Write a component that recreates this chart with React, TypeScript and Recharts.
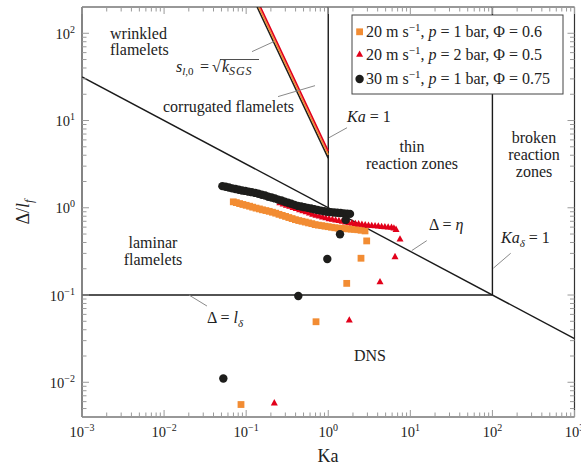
import React from 'react';
import { ComposedChart, XAxis, YAxis, Line, Scatter, ReferenceLine } from 'recharts';

const FONT = '"Liberation Serif", "Times New Roman", serif';
const TXT = '#222';
const ORANGE = '#f28c33';
const RED = '#e2001a';
const BLACK = '#1d1d1b';

// ---- series values: [Ka, Delta/l_f] ----
const orangeBand = [
  [0.0697, 1.17], [0.0759, 1.146], [0.0832, 1.117], [0.0912, 1.091], [0.1, 1.067], [0.11, 1.042],
  [0.12, 1.016], [0.132, 0.991], [0.145, 0.97], [0.158, 0.948], [0.174, 0.929], [0.191, 0.91],
  [0.209, 0.889], [0.229, 0.867], [0.251, 0.841], [0.275, 0.818], [0.302, 0.796], [0.331, 0.773],
  [0.363, 0.752], [0.398, 0.731], [0.437, 0.714], [0.479, 0.7], [0.525, 0.686], [0.575, 0.671],
  [0.631, 0.658], [0.692, 0.641], [0.759, 0.632], [0.832, 0.624], [0.912, 0.615], [1.0, 0.607],
  [1.096, 0.598], [1.202, 0.59], [1.318, 0.585], [1.445, 0.581], [1.585, 0.577], [1.738, 0.573],
  [1.905, 0.569], [2.089, 0.565], [2.291, 0.56], [2.512, 0.553], [2.805, 0.543],
];
const orangeExtra = [[2.94, 0.417], [2.506, 0.264], [1.679, 0.136], [0.7095, 0.0494], [0.0865, 0.00556]];

const redBand = [
  [0.257, 1.138], [0.282, 1.104], [0.309, 1.072], [0.339, 1.04], [0.372, 1.009], [0.407, 0.979],
  [0.447, 0.951], [0.49, 0.923], [0.537, 0.898], [0.589, 0.871], [0.646, 0.845], [0.708, 0.822],
  [0.776, 0.804], [0.851, 0.785], [0.933, 0.767], [1.023, 0.75], [1.122, 0.738], [1.23, 0.724],
  [1.349, 0.713], [1.479, 0.7], [1.622, 0.687], [1.778, 0.676], [1.95, 0.667], [2.138, 0.659],
  [2.344, 0.653], [2.57, 0.646], [2.818, 0.638], [3.09, 0.631], [3.388, 0.625], [3.715, 0.621],
  [4.074, 0.617], [4.467, 0.611], [4.898, 0.607], [5.37, 0.603], [5.888, 0.598], [6.31, 0.586],
  [6.699, 0.565],
];
const redExtra = [[7.485, 0.4395], [6.508, 0.2753], [4.272, 0.1421], [1.805, 0.0516], [0.2202, 0.0058]];

const blackBand = [
  [0.0513, 1.77], [0.0562, 1.74], [0.0617, 1.71], [0.0676, 1.67], [0.0741, 1.64], [0.0813, 1.61],
  [0.0891, 1.58], [0.0977, 1.56], [0.107, 1.53], [0.117, 1.51], [0.129, 1.48], [0.141, 1.45],
  [0.155, 1.41], [0.17, 1.38], [0.186, 1.34], [0.204, 1.31], [0.224, 1.28], [0.245, 1.24],
  [0.269, 1.21], [0.295, 1.17], [0.324, 1.14], [0.355, 1.11], [0.389, 1.08], [0.427, 1.05],
  [0.468, 1.035], [0.513, 1.016], [0.562, 0.998], [0.617, 0.98], [0.676, 0.962], [0.741, 0.944],
  [0.813, 0.927], [0.891, 0.912], [0.977, 0.9], [1.072, 0.891], [1.175, 0.883], [1.288, 0.877],
  [1.413, 0.871], [1.549, 0.863], [1.698, 0.857], [1.841, 0.851],
];
const blackExtra = [[1.632, 0.726], [1.391, 0.498], [0.974, 0.259], [0.4316, 0.0974], [0.0527, 0.01106]];

// ---- regime boundaries ----
const etaLine = [[0.001, 31.62], [1000, 0.03162]];
const lDeltaLine = [[0.001, 0.1], [100, 0.1]];
const ka1Line = [[1, 1], [1, 200]];
const kaDeltaLine = [[100, 0.1], [100, 200]];
const sgsBlack = [[0.136, 200], [1, 3.7]];
const sgsOrange = [[0.1423, 200], [1, 4.05]];
const sgsRed = [[0.1492, 200], [1, 4.45]];

// ---- leader lines for annotations ----
const leaders = [
  [[0.1178, 61.6], [0.2183, 80.4]],
  [[0.2443, 18.8], [0.69, 25.1]],
  [[1.02, 6.35], [1.693, 8.27]],
  [[10.4, 0.323], [15.85, 0.42]],
  [[102.6, 0.203], [167, 0.301]],
  [[0.0201, 0.1], [0.0333, 0.0748]],
];

// ---- axis ticks ----
const X_DOMAIN = [0.001, 1000];
const Y_DOMAIN = [0.004, 200];
const DECADES = [-3, -2, -1, 0, 1, 2, 3];
const MULTS = [1, 2, 3, 4, 5, 6, 7, 8, 9];

const pts = (a: number[][]) => a.map(([ka, d]) => ({ ka, d }));
const buildTicks = (lo: number, hi: number) => {
  const out: number[] = [];
  DECADES.forEach((e) => MULTS.forEach((m) => {
    const v = Number((m * Math.pow(10, e)).toPrecision(3));
    if (v >= lo * 0.999 && v <= hi * 1.001) out.push(v);
  }));
  return out;
};
const xTicks = buildTicks(X_DOMAIN[0], X_DOMAIN[1]);
const yTicks = buildTicks(Y_DOMAIN[0], Y_DOMAIN[1]);
const expOf = (v: number) => Math.round(Math.log10(v));
const isMajor = (v: number) => Math.abs(Math.log10(v) - expOf(v)) < 1e-6;
const expStr = (v: number) => { const e = expOf(v); return e < 0 ? '\u2212' + Math.abs(e) : String(e); };

const TICK = '#9a9a9a';
const MAJ = 7;
const MIN = 4.5;

const BottomTick = (p: any) => {
  const v = p.payload.value; const mj = isMajor(v);
  return (
    <g>
      <line x1={p.x} x2={p.x} y1={p.y} y2={p.y - (mj ? MAJ : MIN)} stroke={TICK} strokeWidth={1} />
      {mj && (
        <text x={p.x} y={p.y + 20} textAnchor="middle" fontFamily={FONT} fontSize={14.5} fill={TXT}>
          10<tspan dy={-6} fontSize={10}>{expStr(v)}</tspan>
        </text>
      )}
    </g>
  );
};
const TopTick = (p: any) => {
  const v = p.payload.value; const mj = isMajor(v);
  return <line x1={p.x} x2={p.x} y1={p.y} y2={p.y + (mj ? MAJ : MIN)} stroke={TICK} strokeWidth={1} />;
};
const LeftTick = (p: any) => {
  const v = p.payload.value; const mj = isMajor(v);
  return (
    <g>
      <line x1={p.x} x2={p.x + (mj ? MAJ : MIN)} y1={p.y} y2={p.y} stroke={TICK} strokeWidth={1} />
      {mj && (
        <text x={p.x - 7} y={p.y + 5.5} textAnchor="end" fontFamily={FONT} fontSize={14.5} fill={TXT}>
          10<tspan dy={-6} fontSize={10}>{expStr(v)}</tspan>
        </text>
      )}
    </g>
  );
};
const RightTick = (p: any) => {
  const v = p.payload.value; const mj = isMajor(v);
  return <line x1={p.x} x2={p.x - (mj ? MAJ : MIN)} y1={p.y} y2={p.y} stroke={TICK} strokeWidth={1} />;
};

const Sq = (p: any) => <rect x={p.cx - 3.4} y={p.cy - 3.4} width={6.8} height={6.8} fill={ORANGE} />;
const Tri = (p: any) => (
  <polygon points={`${p.cx},${p.cy - 3.8} ${p.cx - 3.5},${p.cy + 2.5} ${p.cx + 3.5},${p.cy + 2.5}`} fill={RED} />
);
const Dot = (p: any) => <circle cx={p.cx} cy={p.cy} r={4.2} fill={BLACK} />;

const AX = { stroke: '#333', strokeWidth: 1.2 };

export default function App() {
  const lineProps = { dataKey: 'd', dot: false, isAnimationActive: false, legendType: 'none' as const, type: 'linear' as const };
  return (
    <div style={{ position: 'absolute', left: 0, top: 0, width: 581, height: 466, background: '#fff' }}>
      <ComposedChart width={581} height={466} margin={{ top: 0, right: 0, bottom: 0, left: 0 }}>
        <XAxis dataKey="ka" type="number" scale="log" domain={X_DOMAIN} allowDataOverflow ticks={xTicks}
          interval={0} tickSize={0} tickMargin={0} tickLine={false} axisLine={AX} height={49} tick={BottomTick} />
        <XAxis xAxisId="top" orientation="top" dataKey="ka" type="number" scale="log" domain={X_DOMAIN} allowDataOverflow
          ticks={xTicks} interval={0} tickSize={0} tickMargin={0} tickLine={false} axisLine={AX} height={7} tick={TopTick} />
        <YAxis dataKey="d" type="number" scale="log" domain={Y_DOMAIN} allowDataOverflow ticks={yTicks}
          interval={0} tickSize={0} tickMargin={0} tickLine={false} axisLine={AX} width={82} tick={LeftTick} />
        <YAxis yAxisId="right" orientation="right" dataKey="d" type="number" scale="log" domain={Y_DOMAIN} allowDataOverflow
          ticks={yTicks} interval={0} tickSize={0} tickMargin={0} tickLine={false} axisLine={AX} width={6.5} tick={RightTick} />

        <Line data={pts(etaLine)} {...lineProps} stroke="#1a1a1a" strokeWidth={1.4} />
        <Line data={pts(lDeltaLine)} {...lineProps} stroke="#1a1a1a" strokeWidth={1.4} />
        <Line data={pts(ka1Line)} {...lineProps} stroke="#1a1a1a" strokeWidth={1.4} />
        <Line data={pts(kaDeltaLine)} {...lineProps} stroke="#1a1a1a" strokeWidth={1.4} />
        <Line data={pts(sgsBlack)} {...lineProps} stroke={BLACK} strokeWidth={1.6} />
        <Line data={pts(sgsOrange)} {...lineProps} stroke={ORANGE} strokeWidth={1.6} />
        <Line data={pts(sgsRed)} {...lineProps} stroke={RED} strokeWidth={1.6} />

        {leaders.map((s, i) => (
          <ReferenceLine key={i} segment={[{ x: s[0][0], y: s[0][1] }, { x: s[1][0], y: s[1][1] }]}
            stroke="#8a8a8a" strokeWidth={1} ifOverflow="visible" />
        ))}

        <Scatter data={pts([...orangeBand, ...orangeExtra])} dataKey="d" shape={Sq} isAnimationActive={false} />
        <Scatter data={pts([...redBand, ...redExtra])} dataKey="d" shape={Tri} isAnimationActive={false} />
        <Scatter data={pts([...blackBand, ...blackExtra])} dataKey="d" shape={Dot} isAnimationActive={false} />
      </ComposedChart>

      <svg width={581} height={466} style={{ position: 'absolute', left: 0, top: 0, pointerEvents: 'none' }}
        fontFamily={FONT} fill={TXT}>
        <g fontSize={16}>
          <text x={110} y={38.5}>wrinkled</text>
          <text x={110} y={55}>flamelets</text>
          <text x={176} y={72}>
            <tspan fontStyle="italic">s</tspan><tspan fontSize={11} dy={3} fontStyle="italic">l</tspan>
            <tspan fontSize={11}>,0</tspan>
          </text>
          <text x={200} y={72}>=</text>
          <text x={212} y={72}>{'\u221A'}</text>
          <line x1={220} x2={259} y1={59.5} y2={59.5} stroke={TXT} strokeWidth={0.8} />
          <text x={222} y={72}>
            <tspan fontStyle="italic">k</tspan><tspan fontSize={12} dy={3} fontStyle="italic" letterSpacing={0.8}>SGS</tspan>
          </text>
          <text x={163} y={112}>corrugated flamelets</text>
          <text x={347} y={122}><tspan fontStyle="italic">Ka</tspan> = 1</text>
          <text x={412} y={152} textAnchor="middle">thin</text>
          <text x={412} y={168.5} textAnchor="middle">reaction zones</text>
          <text x={534} y={143} textAnchor="middle">broken</text>
          <text x={534} y={160} textAnchor="middle">reaction</text>
          <text x={534} y={176.5} textAnchor="middle">zones</text>
          <text x={153} y={248} textAnchor="middle">laminar</text>
          <text x={153} y={265} textAnchor="middle">flamelets</text>
          <text x={429} y={230}>{'\u0394'} = <tspan fontStyle="italic">{'\u03B7'}</tspan></text>
          <text x={501} y={243}>
            <tspan fontStyle="italic">Ka</tspan><tspan fontSize={11} dy={4} fontStyle="italic">{'\u03B4'}</tspan>
            <tspan dy={-4}> = 1</tspan>
          </text>
          <text x={207} y={323}>
            {'\u0394'} = <tspan fontStyle="italic">l</tspan><tspan fontSize={11} dy={4} fontStyle="italic">{'\u03B4'}</tspan>
          </text>
          <text x={354} y={361}>DNS</text>
        </g>
        <text x={328} y={462} textAnchor="middle" fontSize={18}>Ka</text>
        <text transform="translate(29,212) rotate(-90)" textAnchor="middle" fontSize={18}>
          {'\u0394'}/<tspan fontStyle="italic">l</tspan><tspan fontSize={12} dy={4} fontStyle="italic">f</tspan>
        </text>

        <rect x={352} y={15} width={211} height={79} fill="#fff" stroke="#444" strokeWidth={1} />
        <rect x={356.2} y={28.4} width={6.8} height={6.8} fill={ORANGE} />
        <polygon points="359.6,50.5 356.1,56.8 363.1,56.8" fill={RED} />
        <circle cx={359.6} cy={79} r={4.2} fill={BLACK} />
        <g fontSize={16}>
          <text x={366} y={36.5}>20 m s<tspan dy={-6} fontSize={11}>{'\u2212'}1</tspan><tspan dy={6}>, </tspan><tspan fontStyle="italic">p</tspan> = 1 bar, {'\u03A6'} = 0.6</text>
          <text x={366} y={60}>20 m s<tspan dy={-6} fontSize={11}>{'\u2212'}1</tspan><tspan dy={6}>, </tspan><tspan fontStyle="italic">p</tspan> = 2 bar, {'\u03A6'} = 0.5</text>
          <text x={366} y={83.5}>30 m s<tspan dy={-6} fontSize={11}>{'\u2212'}1</tspan><tspan dy={6}>, </tspan><tspan fontStyle="italic">p</tspan> = 1 bar, {'\u03A6'} = 0.75</text>
        </g>
      </svg>
    </div>
  );
}
